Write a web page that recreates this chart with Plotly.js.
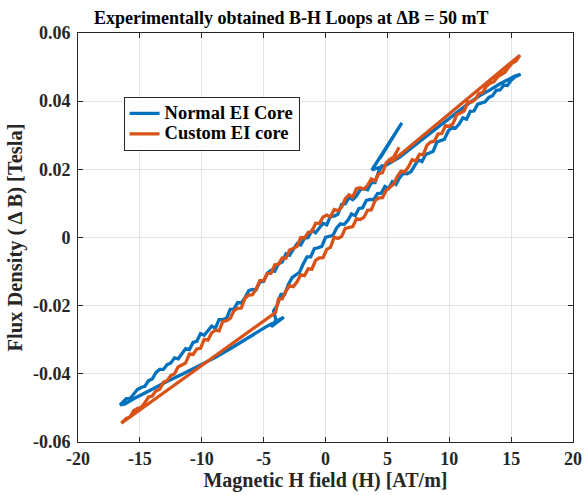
<!DOCTYPE html>
<html>
<head>
<meta charset="utf-8">
<script src="https://cdn.plot.ly/plotly-3.0.1.min.js"></script>
<style>html,body{margin:0;padding:0;background:#fff}#chart{width:586px;height:495px}</style>
</head>
<body>
<div id="chart"></div>
<script>
// ---------- Tick labels ----------
var xTickVals = [-20,-15,-10,-5,0,5,10,15,20];
var xTickText = ['-20','-15','-10','-5','0','5','10','15','20'];
var yTickVals = [-0.06,-0.04,-0.02,0,0.02,0.04,0.06];
var yTickText = ['-0.06','-0.04','-0.02','0','0.02','0.04','0.06'];

var seriesNames = ['Normal EI Core','Custom EI core'];

// ---------- Normal EI Core (blue) ----------
// descending (upper) noisy branch
var blueDescH = [4.6,4.3,4.0,3.7,3.4,3.1,2.8,2.5,2.2,1.9,1.6,1.3,1.0,0.7,0.4,0.1,-0.2,-0.5,-0.8,-1.1,-1.4,-1.7,-2.0,-2.3,-2.6,-2.9,-3.2,-3.5,-3.8,-4.1,-4.4,-4.7,-5.0,-5.3,-5.6,-5.9,-6.2,-6.5,-6.8,-7.1,-7.4,-7.7,-8.0,-8.3,-8.6,-8.9,-9.2,-9.5,-9.8,-10.1,-10.4,-10.7,-11.0,-11.3,-11.6,-11.9,-12.2,-12.5,-12.8,-13.1,-13.4,-13.7,-14.0,-14.3,-14.6,-14.9,-15.2,-15.5,-15.8,-16.1,-16.4,-16.6];
var blueDescB = [0.0213,0.0194,0.0161,0.0161,0.0140,0.0143,0.0140,0.0122,0.0111,0.0117,0.0099,0.0097,0.0068,0.0063,0.0062,0.0037,0.0042,0.0029,0.0014,0.0021,0.0000,-0.0002,-0.0022,-0.0018,-0.0036,-0.0052,-0.0048,-0.0072,-0.0077,-0.0099,-0.0096,-0.0104,-0.0129,-0.0130,-0.0153,-0.0152,-0.0156,-0.0177,-0.0192,-0.0191,-0.0210,-0.0211,-0.0237,-0.0241,-0.0241,-0.0266,-0.0260,-0.0272,-0.0287,-0.0282,-0.0305,-0.0308,-0.0329,-0.0326,-0.0343,-0.0356,-0.0353,-0.0368,-0.0373,-0.0387,-0.0387,-0.0396,-0.0415,-0.0420,-0.0437,-0.0440,-0.0446,-0.0461,-0.0473,-0.0473,-0.0486,-0.0491];
// smooth return from the negative tip, ending in a small barb
var blueLeftH = [-16.2,-15.5,-14.2,-12.9,-11.5,-10.2,-8.85,-7.5,-6.2,-4.85,-3.37,-4.4,-4.0];
var blueLeftB = [-0.0488,-0.0473,-0.0449,-0.0424,-0.0400,-0.0376,-0.0351,-0.0322,-0.0293,-0.0263,-0.0234,-0.0262,-0.0243];
// ascending (lower) noisy branch
var blueAscH = [-4.2,-3.9,-3.6,-3.3,-3.0,-2.7,-2.4,-2.1,-1.8,-1.5,-1.2,-0.9,-0.6,-0.3,0.0,0.3,0.6,0.9,1.2,1.5,1.8,2.1,2.4,2.7,3.0,3.3,3.6,3.9,4.2,4.5,4.8,5.1,5.4,5.7,6.0,6.3,6.6,6.9,7.2,7.5,7.8,8.1,8.4,8.7,9.0,9.3,9.6,9.9,10.2,10.5,10.8,11.1,11.4,11.7,12.0,12.3,12.6,12.9,13.2,13.5,13.8,14.1,14.4,14.7,15.0,15.3,15.77];
var blueAscB = [-0.0215,-0.0199,-0.0167,-0.0167,-0.0138,-0.0118,-0.0111,-0.0102,-0.0078,-0.0057,-0.0057,-0.0033,-0.0030,-0.0026,0.0000,0.0004,0.0006,0.0028,0.0040,0.0038,0.0050,0.0069,0.0064,0.0085,0.0087,0.0109,0.0112,0.0111,0.0129,0.0130,0.0150,0.0144,0.0164,0.0156,0.0176,0.0188,0.0187,0.0193,0.0212,0.0228,0.0223,0.0244,0.0248,0.0253,0.0280,0.0285,0.0288,0.0311,0.0324,0.0321,0.0333,0.0351,0.0347,0.0370,0.0371,0.0391,0.0395,0.0398,0.0411,0.0416,0.0432,0.0433,0.0447,0.0446,0.0461,0.0471,0.0479];
// smooth return from the positive tip, then the spike
var blueRightH = [15.3,14.9,14.1,13.3,12.5,11.7,10.9,10.0,9.0,8.0,7.0,6.0,5.0,4.2,3.75,6.17,4.4];
var blueRightB = [0.0474,0.0466,0.0451,0.0433,0.0417,0.0397,0.0375,0.0350,0.0322,0.0293,0.0264,0.0236,0.0214,0.0203,0.0198,0.0336,0.0232];

// ---------- Custom EI core (orange) ----------
var orangeDescH = [5.2,4.9,4.6,4.3,4.0,3.7,3.4,3.1,2.8,2.5,2.2,1.9,1.6,1.3,1.0,0.7,0.4,0.1,-0.2,-0.5,-0.8,-1.1,-1.4,-1.7,-2.0,-2.3,-2.6,-2.9,-3.2,-3.5,-3.8,-4.1,-4.4,-4.7,-5.0,-5.3,-5.6,-5.9,-6.2,-6.5,-6.8,-7.1,-7.4,-7.7,-8.0,-8.3,-8.6,-8.9,-9.2,-9.5,-9.8,-10.1,-10.4,-10.7,-11.0,-11.3,-11.6,-11.9,-12.2,-12.5,-12.8,-13.1,-13.4,-13.7,-14.0,-14.3,-14.6,-14.9,-15.2,-15.5,-15.8,-16.1,-16.5];
var orangeDescB = [0.0230,0.0218,0.0190,0.0187,0.0166,0.0172,0.0153,0.0142,0.0146,0.0143,0.0119,0.0125,0.0114,0.0089,0.0079,0.0082,0.0060,0.0066,0.0060,0.0041,0.0042,0.0017,0.0015,-0.0001,0.0000,-0.0026,-0.0032,-0.0037,-0.0061,-0.0060,-0.0079,-0.0080,-0.0105,-0.0106,-0.0127,-0.0126,-0.0151,-0.0168,-0.0169,-0.0177,-0.0207,-0.0208,-0.0215,-0.0237,-0.0244,-0.0246,-0.0274,-0.0272,-0.0280,-0.0301,-0.0299,-0.0325,-0.0327,-0.0343,-0.0342,-0.0368,-0.0374,-0.0379,-0.0400,-0.0405,-0.0420,-0.0425,-0.0445,-0.0450,-0.0465,-0.0468,-0.0485,-0.0498,-0.0502,-0.0508,-0.0527,-0.0531,-0.0545];
// ascending (lower) noisy branch (the straight jump from the negative tip joins it)
var orangeAscH = [-4.04,-3.8,-3.5,-3.2,-2.9,-2.6,-2.3,-2.0,-1.7,-1.4,-1.1,-0.8,-0.5,-0.2,0.1,0.4,0.7,1.0,1.3,1.6,1.9,2.2,2.5,2.8,3.1,3.4,3.7,4.0,4.3,4.6,4.9,5.2,5.5,5.8,6.1,6.4,6.7,7.0,7.3,7.6,7.9,8.2,8.5,8.8,9.1,9.4,9.7,10.0,10.3,10.6,10.9,11.2,11.5,11.8,12.1,12.4,12.7,13.0,13.3,13.6,13.9,14.2,14.5,14.8,15.1,15.4,15.71];
var orangeAscB = [-0.0220,-0.0180,-0.0180,-0.0157,-0.0141,-0.0144,-0.0130,-0.0109,-0.0112,-0.0092,-0.0093,-0.0067,-0.0060,-0.0059,-0.0035,-0.0029,0.0001,-0.0003,0.0003,0.0027,0.0030,0.0032,0.0055,0.0053,0.0059,0.0080,0.0081,0.0108,0.0116,0.0117,0.0138,0.0146,0.0156,0.0179,0.0195,0.0192,0.0207,0.0228,0.0225,0.0244,0.0243,0.0271,0.0280,0.0283,0.0304,0.0305,0.0328,0.0326,0.0334,0.0360,0.0366,0.0371,0.0397,0.0397,0.0405,0.0422,0.0425,0.0444,0.0453,0.0457,0.0471,0.0478,0.0485,0.0500,0.0512,0.0518,0.0535];
// straight return from the positive tip and the small blob before the descending branch
var orangeRightH = [5.27,5.95,5.5,5.2];
var orangeRightB = [0.0220,0.0265,0.0235,0.0230];

var blueH = [].concat(blueDescH, blueLeftH, blueAscH, blueRightH);
var blueB = [].concat(blueDescB, blueLeftB, blueAscB, blueRightB);
var orangeH = [].concat(orangeDescH, orangeAscH, orangeRightH);
var orangeB = [].concat(orangeDescB, orangeAscB, orangeRightB);

var serif = '"Liberation Serif", "Times New Roman", serif';
function bold(s) { return '<b>' + s + '</b>'; }
function legendName(s) { return '<b><span style="font-size:18.5px">' + s + '</span></b>'; }

var traces = [
  {x: blueH, y: blueB, mode: 'lines', name: legendName(seriesNames[0]),
   line: {color: '#0072BD', width: 3.3}},
  {x: orangeH, y: orangeB, mode: 'lines', name: legendName(seriesNames[1]),
   line: {color: '#D95319', width: 3.3}}
];

var axisCommon = {
  showgrid: true, gridcolor: '#e3e3e3', gridwidth: 1,
  zeroline: false, showline: true, linecolor: '#262626', linewidth: 1,
  mirror: 'ticks', ticks: 'inside', ticklen: 5, tickcolor: '#262626',
  tickfont: {family: serif, size: 18, color: '#262626'},
  tickmode: 'array'
};

var layout = {
  width: 586, height: 495,
  margin: {l: 78, r: 13, t: 33, b: 53},
  paper_bgcolor: '#ffffff', plot_bgcolor: '#ffffff',
  font: {family: serif},
  title: {text: bold('Experimentally obtained B-H Loops at ΔB = 50 mT'),
          font: {family: serif, size: 18, color: '#000'},
          x: 0.497, xref: 'container', xanchor: 'center',
          y: 0.965, yref: 'container', yanchor: 'middle'},
  xaxis: Object.assign({}, axisCommon, {
    range: [-20, 20], tickvals: xTickVals, ticktext: xTickText.map(bold),
    title: {text: bold('Magnetic H field (H) [AT/m]'), standoff: 2,
            font: {family: serif, size: 20, color: '#262626'}}
  }),
  yaxis: Object.assign({}, axisCommon, {
    range: [-0.06, 0.06], tickvals: yTickVals, ticktext: yTickText.map(bold),
    ticklabelstandoff: 3,
    title: {text: bold('Flux Density (\u2009Δ\u2009B) [Tesla]'), standoff: 4,
            font: {family: serif, size: 20.5, color: '#262626'}}
  }),
  showlegend: true,
  legend: {x: 0.092, y: 0.8435, xanchor: 'left', yanchor: 'top',
           bgcolor: '#ffffff', bordercolor: '#262626', borderwidth: 1,
           font: {family: serif, size: 13.5, color: '#000'},
           tracegroupgap: 0, itemwidth: 30}
};

Plotly.newPlot('chart', traces, layout, {displayModeBar: false, staticPlot: true});
</script>
</body>
</html>
